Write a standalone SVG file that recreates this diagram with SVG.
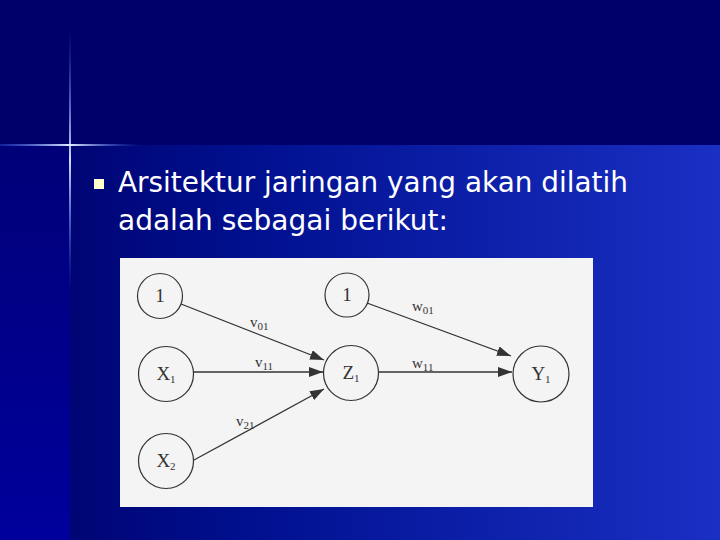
<svg xmlns="http://www.w3.org/2000/svg" width="720" height="540" viewBox="0 0 720 540">
<defs>
<linearGradient id="bgBottom" x1="0" y1="0" x2="1" y2="0">
<stop offset="0" stop-color="#00006a"/>
<stop offset="0.35" stop-color="#00108f"/>
<stop offset="1" stop-color="#1a30c4"/>
</linearGradient>
<linearGradient id="leftStrip" x1="0" y1="0" x2="0" y2="1">
<stop offset="0" stop-color="#000078"/>
<stop offset="1" stop-color="#00009c"/>
</linearGradient>
<linearGradient id="vGlow" x1="0" y1="0" x2="0" y2="1">
<stop offset="0" stop-color="#3a6cff" stop-opacity="0"/>
<stop offset="0.5" stop-color="#cfe0ff" stop-opacity="1"/>
<stop offset="1" stop-color="#3a6cff" stop-opacity="0"/>
</linearGradient>
<linearGradient id="hGlow" x1="0" y1="0" x2="1" y2="0">
<stop offset="0" stop-color="#3a6cff" stop-opacity="0.3"/>
<stop offset="0.5" stop-color="#e0ecff" stop-opacity="1"/>
<stop offset="1" stop-color="#3a6cff" stop-opacity="0"/>
</linearGradient>
<marker id="arr" viewBox="0 0 14 10" refX="14" refY="5" markerWidth="14" markerHeight="10" markerUnits="userSpaceOnUse" orient="auto">
<path d="M0,0 L14,5 L0,10 Z" fill="#333"/>
</marker>
<style>
.node circle{fill:none;stroke:#333;stroke-width:1.2}
.nl{font-family:"Liberation Serif","Times New Roman",serif;font-size:19px;fill:#333;text-anchor:middle}
.el{font-family:"Liberation Serif","Times New Roman",serif;font-size:15px;fill:#333}
.sub{font-size:11px}
.edge{stroke:#333;stroke-width:1.3;fill:none;marker-end:url(#arr)}
.title{font-family:"DejaVu Sans","Verdana",sans-serif;font-size:28px;fill:#ffffff}
</style>
</defs>
<rect x="0" y="0" width="720" height="540" fill="#00006a"/>
<rect x="0" y="145" width="720" height="395" fill="url(#bgBottom)"/>
<rect x="0" y="145" width="70" height="395" fill="url(#leftStrip)"/>
<rect x="69" y="30" width="2" height="260" fill="url(#vGlow)"/>
<rect x="0" y="144" width="140" height="2" fill="url(#hGlow)"/>
<rect x="94" y="179" width="10" height="10" fill="#ffffcc"/>
<text class="title" x="118" y="192" textLength="510" lengthAdjust="spacingAndGlyphs">Arsitektur jaringan yang akan dilatih</text>
<text class="title" x="118" y="230" textLength="330" lengthAdjust="spacingAndGlyphs">adalah sebagai berikut:</text>
<rect x="120" y="258" width="473" height="249" fill="#f4f4f4"/>
<g id="connectors">
<line class="edge" x1="181" y1="304" x2="324" y2="360"/>
<line class="edge" x1="194" y1="372" x2="323" y2="372"/>
<line class="edge" x1="194" y1="460" x2="324" y2="389"/>
<line class="edge" x1="367" y1="303" x2="511" y2="356"/>
<line class="edge" x1="378" y1="372" x2="512" y2="372"/>
<text class="el" x="250" y="327">v<tspan class="sub" dy="3">01</tspan></text>
<text class="el" x="255" y="367">v<tspan class="sub" dy="3">11</tspan></text>
<text class="el" x="236" y="426">v<tspan class="sub" dy="3">21</tspan></text>
<text class="el" x="412" y="311">w<tspan class="sub" dy="3">01</tspan></text>
<text class="el" x="412" y="368">w<tspan class="sub" dy="3">11</tspan></text>
</g>
<g id="node-bias1" class="node"><circle cx="160" cy="296" r="22.5"/><text class="nl" x="160" y="302">1</text></g>
<g id="node-x1" class="node"><circle cx="166" cy="374" r="27.5"/><text class="nl" x="166" y="380">X<tspan class="sub" dy="3">1</tspan></text></g>
<g id="node-x2" class="node"><circle cx="166" cy="461" r="27.5"/><text class="nl" x="166" y="467">X<tspan class="sub" dy="3">2</tspan></text></g>
<g id="node-bias2" class="node"><circle cx="347" cy="295" r="22"/><text class="nl" x="347" y="301">1</text></g>
<g id="node-z1" class="node"><circle cx="351" cy="373" r="27.5"/><text class="nl" x="351" y="379">Z<tspan class="sub" dy="3">1</tspan></text></g>
<g id="node-y1" class="node"><circle cx="541" cy="374" r="28"/><text class="nl" x="541" y="380">Y<tspan class="sub" dy="3">1</tspan></text></g>
</svg>
